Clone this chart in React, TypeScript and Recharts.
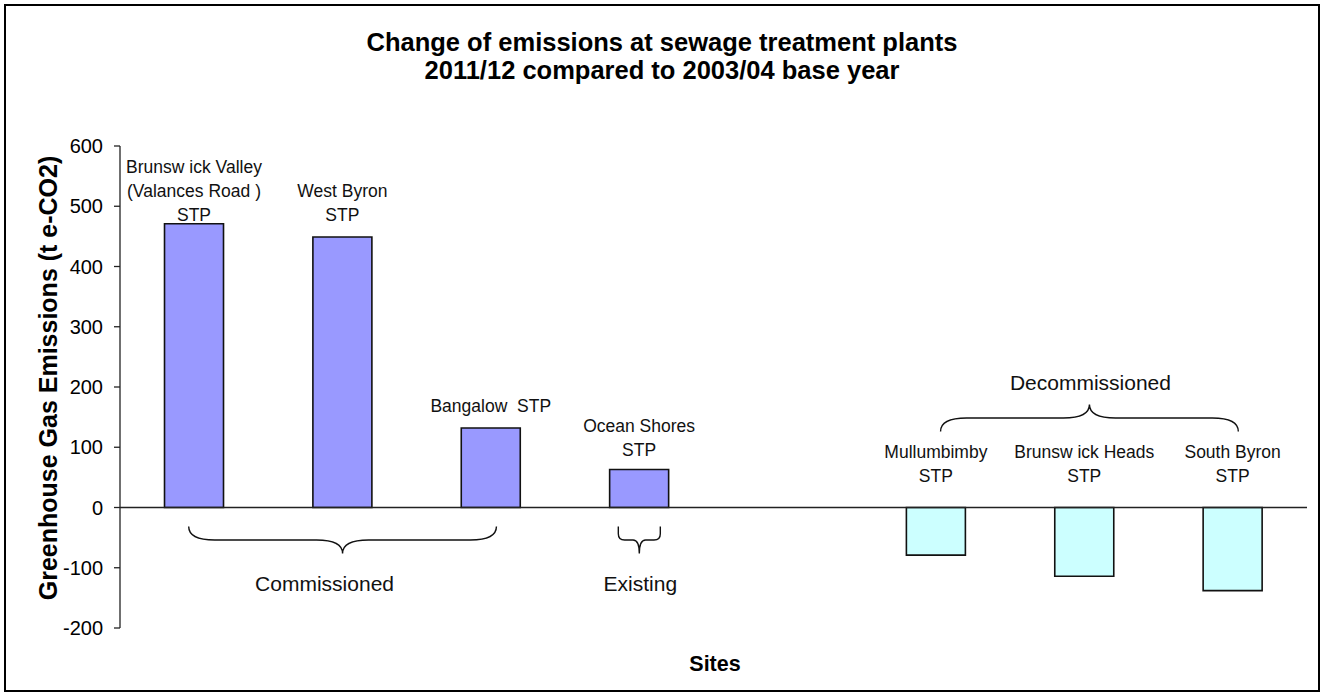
import React from 'react';
import { BarChart, Bar, XAxis, YAxis, Cell, LabelList, ReferenceLine } from 'recharts';

// sites in plotting order; the blank slot is the gap before the decommissioned plants
const sites = ['Brunswick Valley', 'West Byron', 'Bangalow', 'Ocean Shores', ' ', 'Mullumbimby', 'Brunswick Heads', 'South Byron'];
const emissions = [471, 449, 132, 63, null, -79, -114, -138];
const siteStatus = ['commissioned', 'commissioned', 'commissioned', 'existing', 'none', 'decommissioned', 'decommissioned', 'decommissioned'];
const siteLabels = [
  ['Brunsw ick Valley', '(Valances Road )', 'STP'],
  ['West Byron', 'STP'],
  ['Bangalow  STP'],
  ['Ocean Shores', 'STP'],
  [],
  ['Mullumbimby', 'STP'],
  ['Brunsw ick Heads', 'STP'],
  ['South Byron', 'STP'],
];
const yTicks = [-200, -100, 0, 100, 200, 300, 400, 500, 600];

const groupNames = ['Commissioned', 'Existing', 'Decommissioned'];
const groupFrom = ['Brunswick Valley', 'Ocean Shores', 'Mullumbimby'];
const groupTo = ['Bangalow', 'Ocean Shores', 'South Byron'];
const groupSide = ['below', 'below', 'above'];

const data = sites.map((site, i) => ({ site, value: emissions[i], status: siteStatus[i] }));

const FONT = '"Liberation Sans", Arial, Helvetica, sans-serif';
const FILL: Record<string, string> = {
  commissioned: '#9999FF',
  existing: '#9999FF',
  decommissioned: '#CCFFFF',
  none: 'none',
};
// distance from the bar top to the centre of the last label line
const LABEL_GAP = [9, 22, 22, 20, 0, 32, 32, 32];
const LINE_H = 24;
const LABEL_FS = 17.5;

// brace tweaks: horizontal shift, extension past the end bars, text offset
const BRACE = [
  { shift: 0, pad: 5.5, textDx: -18 },
  { shift: 0, pad: 21, textDx: 1 },
  { shift: 5, pad: 0.5, textDx: 1 },
];

const renderSiteLabel = (props: any) => {
  const { x, y, width, height, value } = props;
  const idx = sites.indexOf(value);
  const lines = siteLabels[idx];
  if (!lines || lines.length === 0 || x == null) return null;
  const top = Math.min(y, y + height);
  const cx = x + width / 2;
  const base = top - LABEL_GAP[idx];
  return (
    <g>
      {lines.map((t, i) => (
        <text
          key={i}
          x={cx}
          y={base - (lines.length - 1 - i) * LINE_H + LABEL_FS * 0.35}
          textAnchor="middle"
          fontFamily={FONT}
          fontSize={LABEL_FS}
          fill="#111"
          style={{ whiteSpace: 'pre' }}
        >
          {t}
        </text>
      ))}
    </g>
  );
};

const Brace = (props: any) => {
  const { x1, x2, y1, gi } = props;
  if (x1 == null) return null;
  const b = BRACE[gi];
  const xa = Math.min(x1, x2) + b.shift - b.pad;
  const xb = Math.max(x1, x2) + b.shift + b.pad;
  const tip = (xa + xb) / 2;
  const below = groupSide[gi] === 'below';
  const d = below ? 1 : -1;
  const yE = below ? y1 + 19 : y1 - 76;
  const yM = yE + d * 13.5;
  const yT = yM + d * 13.5;
  const half = (xb - xa) / 2;
  const rh = Math.min(26, half * 0.3);
  const rv = Math.min(rh, 13.5);
  const path = [
    `M ${xa} ${yE}`,
    `L ${xa} ${yM - d * rv}`,
    `Q ${xa} ${yM} ${xa + rh} ${yM}`,
    `L ${tip - rh} ${yM}`,
    `Q ${tip} ${yM} ${tip} ${yT}`,
    `Q ${tip} ${yM} ${tip + rh} ${yM}`,
    `L ${xb - rh} ${yM}`,
    `Q ${xb} ${yM} ${xb} ${yM - d * rv}`,
    `L ${xb} ${yE}`,
  ].join(' ');
  const ty = below ? y1 + 76 : y1 - 124.5;
  return (
    <g>
      <path d={path} fill="none" stroke="#111" strokeWidth={1.4} />
      <text
        x={tip + b.textDx}
        y={ty + 21 * 0.35}
        textAnchor="middle"
        fontFamily={FONT}
        fontSize={21}
        fill="#111"
      >
        {groupNames[gi]}
      </text>
    </g>
  );
};

const YTitle = () => {
  const cx = 48;
  const cy = 378;
  return (
    <text
      x={cx}
      y={cy}
      transform={`rotate(-90 ${cx} ${cy})`}
      textAnchor="middle"
      dominantBaseline="central"
      fontFamily={FONT}
      fontWeight="bold"
      fontSize={25}
      fill="#000"
    >
      Greenhouse Gas Emissions (t e-CO2)
    </text>
  );
};

const App: React.FC = () => {
  return (
    <div style={{ position: 'relative', width: 1328, height: 700, background: '#fff', fontFamily: FONT }}>
      <style>{'html, body { margin: 0; padding: 0; background: #fff; }'}</style>
      <div
        style={{
          position: 'absolute',
          left: 4,
          top: 4,
          width: 1316,
          height: 688,
          border: '2px solid #000',
          boxSizing: 'border-box',
        }}
      />
      <div
        style={{
          position: 'absolute',
          left: 0,
          width: 1324,
          top: 28,
          textAlign: 'center',
          fontWeight: 'bold',
          fontSize: 25.5,
          lineHeight: '28.4px',
          color: '#000',
        }}
      >
        <div>Change of emissions at sewage treatment plants</div>
        <div>2011/12 compared to 2003/04 base year</div>
      </div>
      <div
        style={{
          position: 'absolute',
          left: 615,
          width: 200,
          top: 650,
          textAlign: 'center',
          fontWeight: 'bold',
          fontSize: 21.5,
          lineHeight: '28px',
          color: '#000',
        }}
      >
        Sites
      </div>
      <div style={{ position: 'absolute', left: 0, top: 0 }}>
        <BarChart
          width={1328}
          height={700}
          data={data}
          margin={{ top: 146, right: 21, bottom: 72, left: 40 }}
          barCategoryGap="30%"
        >
          <XAxis dataKey="site" hide />
          <YAxis
            width={80}
            domain={[-200, 600]}
            ticks={yTicks}
            interval={0}
            allowDataOverflow
            tickSize={6}
            tickMargin={11}
            axisLine={{ stroke: '#222', strokeWidth: 1.3 }}
            tickLine={{ stroke: '#222', strokeWidth: 1.3 }}
            tick={{ fill: '#000', fontSize: 20, fontFamily: FONT }}
            label={{ content: () => <YTitle /> }}
          />
          <Bar dataKey="value" stroke="#111" strokeWidth={1.6} isAnimationActive={false}>
            {data.map((d, i) => (
              <Cell key={`cell-${i}`} fill={FILL[d.status]} />
            ))}
            <LabelList dataKey="site" content={renderSiteLabel} />
          </Bar>
          <ReferenceLine y={0} stroke="#222" strokeWidth={1.5} />
          {groupNames.map((g, gi) => (
            <ReferenceLine
              key={g}
              segment={[
                { x: groupFrom[gi], y: 0 },
                { x: groupTo[gi], y: 0 },
              ]}
              ifOverflow="visible"
              shape={(p: any) => <Brace {...p} gi={gi} />}
            />
          ))}
        </BarChart>
      </div>
    </div>
  );
};

export default App;
